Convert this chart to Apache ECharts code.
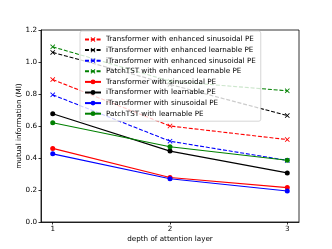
<!DOCTYPE html>
<html><head><meta charset="utf-8">
<script src="https://cdn.jsdelivr.net/npm/echarts@6/dist/echarts.min.js"></script>
<style>html,body{margin:0;padding:0;background:#fff}#c{width:332px;height:249px}</style>
</head><body><div id="c"></div>
<script>
const depths = [1, 2, 3];
const xTicks = [1, 2, 3];
const seriesNames = [
  'Transformer with enhanced sinusoidal PE',
  'iTransformer with enhanced learnable PE',
  'iTransformer with enhanced sinusoidal PE',
  'PatchTST with enhanced learnable PE',
  'Transformer with sinusoidal PE',
  'iTransformer with learnable PE',
  'iTransformer with sinusoidal PE',
  'PatchTST with learnable PE'
];
const transEnhSin = [0.89, 0.60, 0.515];
const iTransEnhLearn = [1.06, 0.86, 0.665];
const iTransEnhSin = [0.795, 0.505, 0.385];
const patchEnhLearn = [1.095, 0.88, 0.82];
const transSin = [0.46, 0.278, 0.215];
const iTransLearn = [0.676, 0.443, 0.307];
const iTransSin = [0.426, 0.27, 0.194];
const patchLearn = [0.62, 0.47, 0.386];

const allValues = [transEnhSin, iTransEnhLearn, iTransEnhSin, patchEnhLearn, transSin, iTransLearn, iTransSin, patchLearn];
const colors = ['#ff0000', '#000000', '#0000ff', '#008000', '#ff0000', '#000000', '#0000ff', '#008000'];
const dashed = [true, true, true, true, false, false, false, false];
const xPath = 'path://M0,1.2L1.2,0L5,3.8L8.8,0L10,1.2L6.2,5L10,8.8L8.8,10L5,6.2L1.2,10L0,8.8L3.8,5Z';

const font = 'DejaVu Sans';
const series = allValues.map((vals, i) => ({
  name: seriesNames[i],
  type: 'line',
  data: depths.map((d, j) => [d, vals[j]]),
  symbol: dashed[i] ? xPath : 'circle',
  symbolSize: 5,
  showSymbol: true,
  animation: false,
  color: colors[i],
  lineStyle: { color: colors[i], width: 1.1, type: dashed[i] ? [4, 1.8] : 'solid' },
  itemStyle: { color: colors[i], borderWidth: 0 },
  emphasis: { disabled: true }
}));

const chart = echarts.init(document.getElementById('c'), null, { renderer: 'canvas' });
chart.setOption({
  animation: false,
  backgroundColor: '#fff',
  grid: { left: 41, right: 33, top: 30, bottom: 27, show: true, borderColor: '#000', borderWidth: 0.8, containLabel: false },
  legend: {
    orient: 'vertical', left: 80, top: 31,
    itemWidth: 16, itemHeight: 6, itemGap: 3.6,
    padding: [5, 5, 4, 4],
    backgroundColor: 'rgba(255,255,255,0.8)',
    borderColor: '#cccccc', borderWidth: 0.8, borderRadius: 2,
    textStyle: { fontFamily: font, fontSize: 7.2, color: '#000', padding: [0, 0, 0, 0] },
    data: seriesNames
  },
  xAxis: {
    type: 'value', min: 0.9, max: 3.1,
    name: 'depth of attention layer', nameLocation: 'middle', nameGap: 14, nameMoveOverlap: false,
    nameTextStyle: { fontFamily: font, fontSize: 7.2, color: '#000' },
    axisLine: { show: true, onZero: false, lineStyle: { color: '#000', width: 0.8 } },
    axisTick: { show: true, length: 2.5, inside: false, customValues: xTicks, lineStyle: { color: '#000', width: 0.8 } },
    axisLabel: { fontFamily: font, fontSize: 7.2, color: '#000', margin: 4, customValues: xTicks },
    splitLine: { show: false }
  },
  yAxis: {
    type: 'value', min: 0, max: 1.2, interval: 0.2,
    name: 'mutual information (MI)', nameLocation: 'middle', nameGap: 18, nameMoveOverlap: false,
    nameTextStyle: { fontFamily: font, fontSize: 7.2, color: '#000' },
    axisLine: { show: true, onZero: false, lineStyle: { color: '#000', width: 0.8 } },
    axisTick: { show: true, length: 2.5, lineStyle: { color: '#000', width: 0.8 } },
    axisLabel: { fontFamily: font, fontSize: 7.2, color: '#000', margin: 4, formatter: v => v.toFixed(1) },
    splitLine: { show: false }
  },
  series: series
});
</script></body></html>
